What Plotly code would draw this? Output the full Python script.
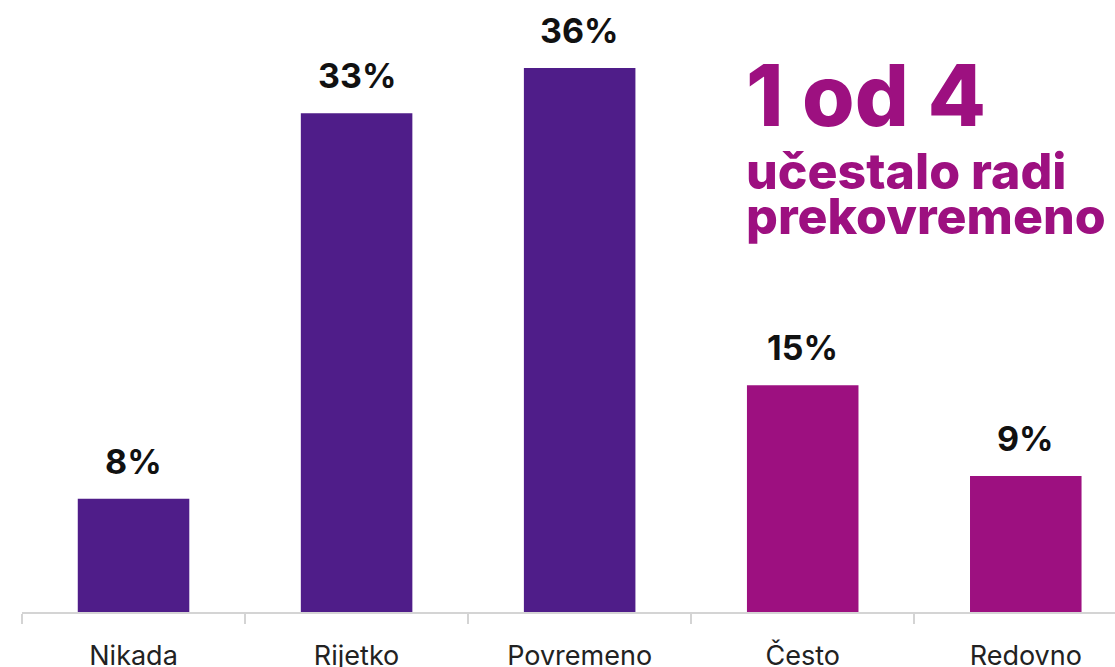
import plotly.graph_objects as go

categories = ["Nikada", "Rijetko", "Povremeno", "Često", "Redovno"]
values = [7.5, 33, 36, 15, 9]
value_labels = ["8%", "33%", "36%", "15%", "9%"]
bar_colors = ["#4F1D89", "#4F1D89", "#4F1D89", "#9D1080", "#9D1080"]

headline = "1 od 4"
sub_lines = ["učestalo radi", "prekovremeno"]

FONT = "Inter"
H = 612  # plot height px

fig = go.Figure()
fig.add_trace(go.Bar(
    x=categories, y=values, marker=dict(color=bar_colors, line=dict(width=0)),
    width=0.5, hoverinfo="skip",
))

for c, v, t in zip(categories, values, value_labels):
    fig.add_annotation(x=c, y=v, text=f"<b>{t}</b>", showarrow=False,
                       yanchor="bottom", yshift=15,
                       font=dict(family=FONT, size=34, color="#111111", weight=800))

def py(px):
    return 1 - px / H

fig.add_annotation(xref="paper", yref="paper", x=(744 - 22) / 1093, y=py(42),
                   xanchor="left", yanchor="top", text=headline, showarrow=False,
                   font=dict(family=FONT, size=85, color="#9D1080", weight=800))
for i, line in enumerate(sub_lines):
    fig.add_annotation(xref="paper", yref="paper", x=(744 - 22) / 1093, y=py(139 + 45 * i),
                       xanchor="left", yanchor="top", text=line, showarrow=False,
                       font=dict(family=FONT, size=50, color="#9D1080", weight=800))

fig.update_layout(
    width=1115, height=667,
    margin=dict(l=22, r=0, t=0, b=55, autoexpand=False),
    paper_bgcolor="white", plot_bgcolor="white",
    showlegend=False, bargap=0.5,
    xaxis=dict(range=[-0.5, 4.4], tickson="boundaries", ticks="outside", ticklen=10,
               tickcolor="#D4D4D4", tickwidth=2, showline=True, linecolor="#D4D4D4",
               linewidth=2, showgrid=False, ticklabelstandoff=19, automargin=False,
               tickfont=dict(family=FONT, size=27, color="#222222"), fixedrange=True),
    yaxis=dict(range=[0, 40.5], visible=False, showgrid=False, zeroline=False,
               automargin=False, fixedrange=True),
)

fig.write_html("out.html", config={"displayModeBar": False},
               post_script="document.body.style.margin='0';document.body.style.overflow='hidden';")
